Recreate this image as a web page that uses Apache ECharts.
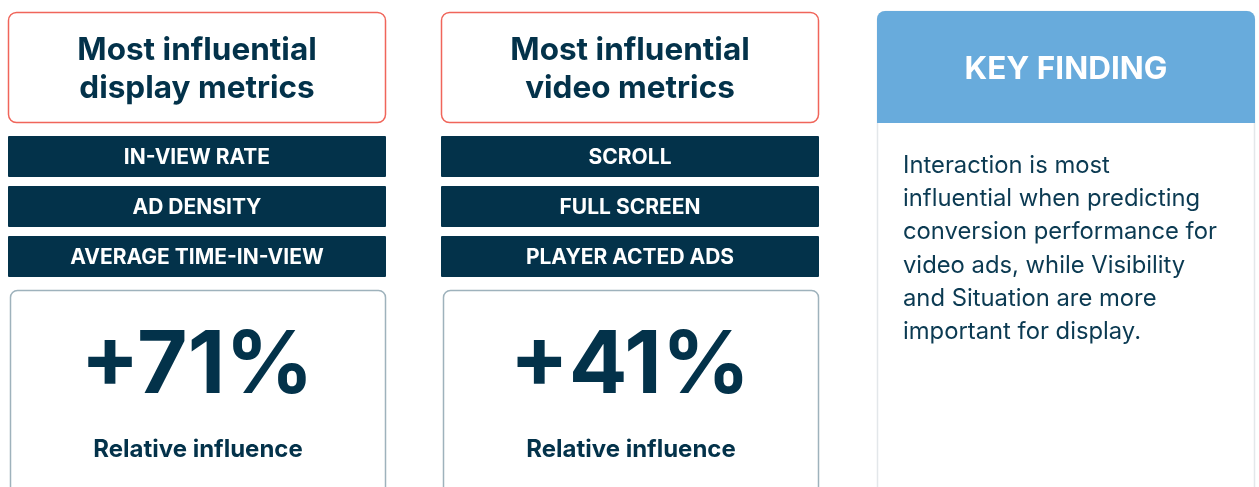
<!DOCTYPE html>
<html lang="en">
<head>
    <meta charset="utf-8">
    <title>Most influential metrics</title>
    <script src="https://cdn.jsdelivr.net/npm/echarts@6/dist/echarts.min.js"></script>
    <style>
        html, body { margin: 0; padding: 0; background: #fff; }
        #divInfluence { width: 1259px; height: 487px; }
    </style>
</head>
<body>
<div id="divInfluence"></div>

<script>
    // panel titles, one per column
    var panelTitles = [
        ['Most influential', 'display metrics'],
        ['Most influential', 'video metrics']
    ];
    // top three metrics per panel
    var panelMetrics = [
        ['IN-VIEW RATE', 'AD DENSITY', 'AVERAGE TIME-IN-VIEW'],
        ['SCROLL', 'FULL SCREEN', 'PLAYER ACTED ADS']
    ];
    // relative influence values (%)
    var influenceValues = [71, 41];
    var influenceLabel = 'Relative influence';

    var findingTitle = 'KEY FINDING';
    var findingLines = [
        'Interaction is most',
        'influential when predicting',
        'conversion performance for',
        'video ads, while Visibility',
        'and Situation are more',
        'important for display.'
    ];

    var navy = '#03324a';
    var font = 'Inter, "Noto Sans", sans-serif';

    function buildGraphics() {
        var els = [];
        var colX = [8, 441];
        var colW = 378;

        for (var i = 0; i < panelTitles.length; i++) {
            var x = colX[i];
            var cx = x + colW / 2;

            // title box
            els.push({
                type: 'rect',
                shape: { x: x + 0.5, y: 12.5, width: colW - 1, height: 110, r: 8 },
                style: { fill: '#fff', stroke: '#f0655a', lineWidth: 1.5 }
            });
            for (var t = 0; t < panelTitles[i].length; t++) {
                els.push({
                    type: 'text',
                    style: {
                        text: panelTitles[i][t], x: cx, y: 50.5 + t * 38,
                        align: 'center', verticalAlign: 'middle',
                        fill: navy, font: 'bold 31.5px ' + font
                    }
                });
            }

            // metric bars
            for (var m = 0; m < panelMetrics[i].length; m++) {
                var y = 136 + m * 50;
                els.push({
                    type: 'rect',
                    shape: { x: x, y: y, width: colW, height: 41, r: 1 },
                    style: { fill: navy }
                });
                els.push({
                    type: 'text',
                    style: {
                        text: panelMetrics[i][m], x: cx, y: y + 21.5,
                        align: 'center', verticalAlign: 'middle',
                        fill: '#fff', font: 'bold 21px ' + font
                    }
                });
            }

            // value box
            els.push({
                type: 'rect',
                shape: { x: x + 2.5, y: 290.5, width: colW - 3, height: 210, r: 7 },
                style: { fill: '#fff', stroke: '#9eb2bc', lineWidth: 1.5 }
            });
            els.push({
                type: 'text',
                style: {
                    text: '+' + influenceValues[i] + '%', x: cx, y: 367,
                    align: 'center', verticalAlign: 'middle',
                    fill: navy, font: 'bold 87px ' + font
                }
            });
            els.push({
                type: 'text',
                style: {
                    text: influenceLabel, x: cx + 1, y: 450,
                    align: 'center', verticalAlign: 'middle',
                    fill: navy, font: 'bold 24px ' + font
                }
            });
        }

        // key finding card
        var kx = 877, kw = 378;
        els.push({
            type: 'rect',
            shape: { x: kx + 0.5, y: 11.5, width: kw - 1, height: 500, r: 8 },
            style: { fill: '#fff', stroke: '#e3e7ea', lineWidth: 1.5 }
        });
        els.push({
            type: 'rect',
            shape: { x: kx, y: 11, width: kw, height: 112, r: [8, 8, 0, 0] },
            style: { fill: '#68abdc' }
        });
        els.push({
            type: 'text',
            style: {
                text: findingTitle, x: kx + kw / 2, y: 70,
                align: 'center', verticalAlign: 'middle',
                fill: '#fff', font: 'bold 31.5px ' + font
            }
        });
        for (var l = 0; l < findingLines.length; l++) {
            els.push({
                type: 'text',
                style: {
                    text: findingLines[l], x: 903, y: 165.5 + l * 33.3,
                    align: 'left', verticalAlign: 'middle',
                    fill: '#0b3a52', font: '23.8px ' + font
                }
            });
        }
        return els;
    }

    var myChart = echarts.init(document.getElementById('divInfluence'));
    var option = {
        animation: false,
        backgroundColor: '#fff',
        graphic: { elements: buildGraphics() }
    };
    myChart.setOption(option);
</script>
</body>
</html>
